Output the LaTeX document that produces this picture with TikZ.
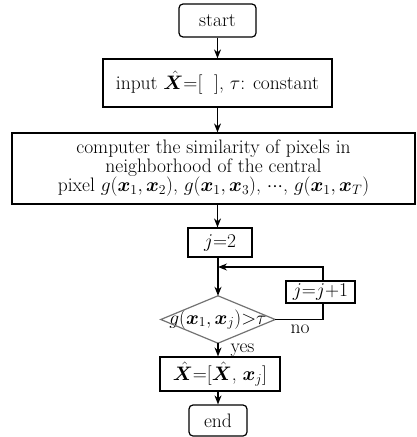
\RequirePackage{fix-cm}
\documentclass[tikz,border=0pt]{standalone}
\usepackage{amsmath,bm}
\usetikzlibrary{arrows.meta}
\begin{document}
\begin{tikzpicture}[x=1pt,y=-1pt,
  font=\fontsize{19.5}{18.5}\selectfont,
  box/.style 2 args={draw, line width=1.2pt, inner sep=0pt, minimum width=#1, minimum height=#2, align=center},
  rbox/.style 2 args={box={#1}{#2}, rounded corners=4pt},
  arr/.style={-{Stealth[length=9pt,width=7pt]}, line width=1.2pt},
  conn/.style={line width=1.2pt},
  diam/.style={draw=black!55, line width=1.2pt},
  lbl/.style={inner sep=0pt, anchor=base}]
\useasboundingbox (0,0) rectangle (416,437);
\node[rbox={77pt}{33pt}] (start) at (217.5,20.5) {start};
\node[box={229pt}{48pt}] (input) at (217.5,83) {input $\hat{\bm X}$=[\ \ ], $\tau$: constant};
\node[box={403pt}{71pt}] (comp) at (213.5,168.5) {computer the similarity of pixels in\\neighborhood of the central\\pixel $g(\bm x_1, \bm x_2)$, $g(\bm x_1, \bm x_3)$, ${\cdot}{\cdot}{\cdot}$, $g(\bm x_1, \bm x_T)$};
\node[box={64pt}{29pt}] (j2) at (220,242.5) {$j$=2};
\coordinate (join) at (218,267);
\coordinate (loopx) at (323,0);
\node[inner sep=0pt, minimum width=114pt, minimum height=47pt] (dec) at (218,319.5) {$g(\bm x_1, \bm x_j)$>$\tau$};
\draw[diam] (dec.west) -- (dec.north) -- (dec.east) -- (dec.south) -- cycle;
\node[box={120pt}{34pt}] (upd) at (220,374) {$\hat{\bm X}$=[$\hat{\bm X}$, $\bm x_j$]};
\node[rbox={58pt}{31pt}] (end) at (218,420.5) {end};
\draw[conn] (dec.east) -- (dec.east -| loopx) -- (loopx |- 0,303);
\draw[arr] (loopx |- 0,281) |- (join);
\node[box={69pt}{22pt}, fill=white] (inc) at (320.5,292) {$j$=$j$+1};
\draw[arr] (start.south) -- (input.north);
\draw[arr] (input.south) -- (input.south |- comp.north);
\draw[arr] (input.south |- comp.south) -- (input.south |- j2.north);
\draw[arr] (join |- j2.south) -- (dec.north);
\draw[arr] (dec.south) -- (dec.south |- upd.north);
\draw[arr] (end.north |- upd.south) -- (end.north);
\node[lbl] (no) at (300,333) {no};
\node[lbl] (yes) at (242.5,352) {yes};
\end{tikzpicture}
\end{document}
